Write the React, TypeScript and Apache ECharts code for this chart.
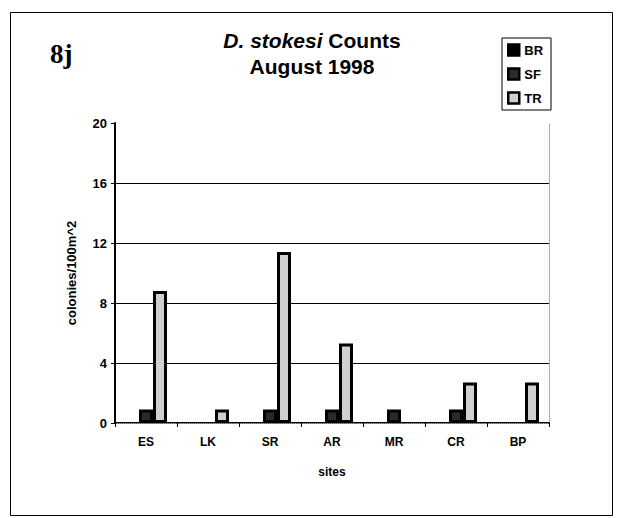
import React, { useEffect, useRef } from "react";
import * as echarts from "echarts";

const sites = ["ES", "LK", "SR", "AR", "MR", "CR", "BP"];
const seriesNames = ["BR", "SF", "TR"];
const brValues: (number | null)[] = [null, null, null, null, null, null, null];
const sfValues: (number | null)[] = [0.9, null, 0.9, 0.9, 0.9, 0.9, null];
const trValues: (number | null)[] = [8.8, 0.9, 11.4, 5.3, null, 2.7, 2.7];
const yTicks = [0, 4, 8, 12, 16, 20];

const FONT = "'Liberation Sans', Arial, sans-serif";

export default function App() {
  const ref = useRef<HTMLDivElement>(null);
  useEffect(() => {
    if (!ref.current) return;
    const chart = echarts.init(ref.current, null, { renderer: "svg" });
    const fills = ["#000000", "#2a2a2a", "#d0d0d0"];
    const values = [brValues, sfValues, trValues];
    chart.setOption({
      animation: false,
      backgroundColor: "#ffffff",
      textStyle: { fontFamily: FONT },
      grid: { left: 115, top: 123, right: 68, bottom: 95, containLabel: false },
      legend: {
        orient: "vertical",
        left: 502,
        top: 38,
        padding: [4, 8, 4, 5],
        itemGap: 8,
        itemWidth: 11,
        itemHeight: 11,
        itemTextGap: 2,
        borderColor: "#000",
        borderWidth: 1,
        backgroundColor: "#fff",
        textStyle: { fontFamily: FONT, fontSize: 13, fontWeight: "bold", color: "#000", lineHeight: 16 },
        data: seriesNames.map((n, i) => ({
          name: n,
          icon: "rect",
          itemStyle: { color: fills[i], borderColor: "#000", borderWidth: 2.5 },
        })),
      },
      xAxis: [
        {
          type: "category",
          data: sites,
          name: "sites",
          nameLocation: "middle",
          nameGap: 43,
          nameTextStyle: { fontFamily: FONT, fontSize: 12, fontWeight: "bold", color: "#000" },
          axisLine: { lineStyle: { color: "#000", width: 2 } },
          axisTick: { show: true, length: 4, lineStyle: { color: "#000", width: 1 } },
          axisLabel: { fontFamily: FONT, fontSize: 12, fontWeight: "bold", color: "#000", margin: 13 },
          splitLine: { show: false },
        },
        {
          type: "category",
          data: sites,
          position: "top",
          axisLine: { lineStyle: { color: "#9a9a9a", width: 1, type: "dotted" } },
          axisTick: { show: false },
          axisLabel: { show: false },
          splitLine: { show: false },
        },
      ],
      yAxis: [
        {
          type: "value",
          min: 0,
          max: 20,
          interval: 4,
          name: "colonies/100m^2",
          nameLocation: "middle",
          nameRotate: 90,
          nameGap: 37,
          nameTextStyle: { fontFamily: FONT, fontSize: 13, fontWeight: "bold", color: "#000" },
          axisLine: { show: true, lineStyle: { color: "#000", width: 2 } },
          axisTick: { show: true, length: 4, lineStyle: { color: "#000", width: 1 } },
          axisLabel: {
            fontFamily: FONT,
            fontSize: 13,
            fontWeight: "bold",
            color: "#000",
            margin: 8,
            formatter: (v: number) => (yTicks.includes(v) ? String(v) : ""),
          },
          splitLine: {
            show: true,
            lineStyle: {
              color: ["#000", "#000", "#000", "#000", "#000", "rgba(0,0,0,0)"],
              width: 1,
            },
          },
        },
        {
          type: "value",
          min: 0,
          max: 20,
          interval: 4,
          position: "right",
          axisLine: { show: true, lineStyle: { color: "#9a9a9a", width: 1, type: "dotted" } },
          axisTick: { show: false },
          axisLabel: { show: false },
          splitLine: { show: false },
        },
      ],
      series: seriesNames.map((n, i) => ({
        name: n,
        type: "bar",
        data: values[i],
        barWidth: 14,
        barGap: "0%",
        itemStyle: { color: fills[i], borderColor: "#000", borderWidth: 3 },
        emphasis: { disabled: true },
      })),
      graphic: [
        {
          type: "rect",
          shape: { x: 10.5, y: 12.5, width: 602, height: 503 },
          style: { fill: "none", stroke: "#000", lineWidth: 1 },
          z: -10,
          silent: true,
        },
        {
          type: "text",
          x: 50,
          y: 54,
          style: {
            text: "8j",
            font: "bold 27px 'Liberation Serif', 'Times New Roman', serif",
            fill: "#000",
            align: "left",
            verticalAlign: "middle",
          },
        },
        {
          type: "text",
          x: 312,
          y: 40,
          style: {
            text: "{i|D. stokesi} {b|Counts}",
            align: "center",
            verticalAlign: "middle",
            rich: {
              i: { fontFamily: FONT, fontSize: 21, fontWeight: "bold", fontStyle: "italic", fill: "#000" },
              b: { fontFamily: FONT, fontSize: 21, fontWeight: "bold", fill: "#000" },
            },
            font: `bold 21px ${FONT}`,
            fill: "#000",
          },
        },
        {
          type: "text",
          x: 312,
          y: 66,
          style: {
            text: "August 1998",
            font: `bold 21px ${FONT}`,
            fill: "#000",
            align: "center",
            verticalAlign: "middle",
          },
        },
      ],
    });
    return () => chart.dispose();
  }, []);
  return (
    <div
      ref={ref}
      style={{ position: "fixed", left: 0, top: 0, width: 617, height: 518, background: "#fff" }}
    />
  );
}
